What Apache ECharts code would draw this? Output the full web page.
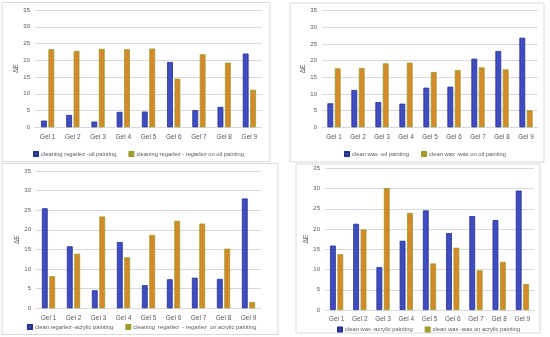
<!DOCTYPE html>
<html><head><meta charset="utf-8">
<script src="https://cdn.jsdelivr.net/npm/echarts@6/dist/echarts.min.js"></script>
<style>html,body{margin:0;padding:0;background:#fff}#c{width:550px;height:337px}</style>
</head><body><div id="c"></div>
<script>
const categories = ['Gel 1','Gel 2','Gel 3','Gel 4','Gel 5','Gel 6','Gel 7','Gel 8','Gel 9'];
const yTicks = [0,5,10,15,20,25,30,35];

const p1Names = ['cleaning regarlez -oil painting','cleaning regarlez - regarlez on oil painting'];
const p1Blue = [2.0, 3.7, 1.7, 4.6, 4.7, 19.5, 5.1, 6.1, 22.0];
const p1Orange = [23.3, 22.8, 23.4, 23.3, 23.5, 14.5, 21.8, 19.3, 11.2];

const p2Names = ['clean wax -oil painting','clean wax -wax on oil painting'];
const p2Blue = [7.2, 11.2, 7.6, 7.1, 11.9, 12.2, 20.6, 22.9, 26.9];
const p2Orange = [17.7, 17.8, 19.2, 19.4, 16.6, 17.2, 18.0, 17.4, 5.1];

const p3Names = ['clean regarlez -acrylic painting','cleaning  regarlez  - regarlez  on acrylic painting'];
const p3Blue = [25.5, 15.8, 4.6, 16.9, 5.9, 7.4, 7.8, 7.5, 28.0];
const p3Orange = [8.2, 13.9, 23.4, 13.0, 18.7, 22.3, 21.6, 15.2, 1.6];

const p4Names = ['clean wax -acrylic painting','clean wax -wax on acrylic painting'];
const p4Blue = [15.9, 21.3, 10.6, 17.1, 24.6, 19.0, 23.2, 22.2, 29.5];
const p4Orange = [13.8, 19.9, 30.1, 24.0, 11.5, 15.4, 9.8, 11.9, 6.4];

const panels = [
  {names:p1Names, blue:p1Blue, orange:p1Orange, grid:{left:35, top:10, width:227, height:117.3}, legendTop:146, legendLeft:28, nameGap:12},
  {names:p2Names, blue:p2Blue, orange:p2Orange, grid:{left:322, top:10.7, width:216, height:116.6}, legendTop:146, legendLeft:339, nameGap:13},
  {names:p3Names, blue:p3Blue, orange:p3Orange, grid:{left:36, top:171, width:225, height:137.3}, legendTop:319, legendLeft:22, nameGap:15},
  {names:p4Names, blue:p4Blue, orange:p4Orange, grid:{left:325, top:168.3, width:209, height:141.7}, legendTop:321.5, legendLeft:332, nameGap:13}
];
const BLUE = '#3f4cc2', BLUE_B = '#26328a', ORANGE = '#d6882a', ORANGE_B = '#93a02a';
const TXT = '#595959';
const FONT = 'Liberation Sans';

const grids = [], xAxes = [], yAxes = [], series = [], legends = [];
panels.forEach((p, i) => {
  grids.push(Object.assign({containLabel:false}, p.grid));
  xAxes.push({type:'category', gridIndex:i, data:categories,
    axisLine:{show:true, lineStyle:{color:'#d9d9d9'}}, axisTick:{show:false},
    axisLabel:{color:TXT, fontSize:6.5, fontFamily:FONT, margin:6}});
  yAxes.push({type:'value', gridIndex:i, min:yTicks[0], max:yTicks[yTicks.length-1], interval:5,
    name:'ΔE', nameLocation:'middle', nameRotate:90, nameGap:p.nameGap,
    nameTextStyle:{color:TXT, fontSize:6.5, fontFamily:FONT},
    axisLine:{show:false}, axisTick:{show:false},
    axisLabel:{color:TXT, fontSize:6, fontFamily:FONT, margin:5},
    splitLine:{lineStyle:{color:'#d9d9d9', width:1}}});
  series.push({type:'bar', name:p.names[0], xAxisIndex:i, yAxisIndex:i, data:p.blue,
    barWidth:5.8, barGap:'28%', itemStyle:{color:BLUE, borderColor:BLUE_B, borderWidth:0.8}});
  series.push({type:'bar', name:p.names[1], xAxisIndex:i, yAxisIndex:i, data:p.orange,
    barWidth:5.8, barGap:'28%', itemStyle:{color:ORANGE, borderColor:ORANGE_B, borderWidth:0.8}});
  legends.push({data:p.names, left:p.legendLeft, top:p.legendTop, itemWidth:4, itemHeight:4, itemGap:12,
    icon:'rect', textStyle:{color:TXT, fontSize:5.8, fontFamily:FONT, padding:[0,0,0,-2]}});
});

const chart = echarts.init(document.getElementById('c'), null, {renderer:'canvas'});
chart.setOption({
  animation:false,
  backgroundColor:'#fff',
  grid:grids, xAxis:xAxes, yAxis:yAxes, series:series, legend:legends,
  graphic:[
    {type:'rect', shape:{x:2, y:2.5, width:268, height:159}, style:{fill:'none', stroke:'#d9d9d9', lineWidth:1}, silent:true},
    {type:'rect', shape:{x:290, y:3, width:254, height:159}, style:{fill:'none', stroke:'#d9d9d9', lineWidth:1}, silent:true},
    {type:'rect', shape:{x:2, y:163.5, width:276, height:171}, style:{fill:'none', stroke:'#d9d9d9', lineWidth:1}, silent:true},
    {type:'rect', shape:{x:296, y:164, width:244, height:169}, style:{fill:'none', stroke:'#d9d9d9', lineWidth:1}, silent:true}
  ]
});
</script></body></html>
